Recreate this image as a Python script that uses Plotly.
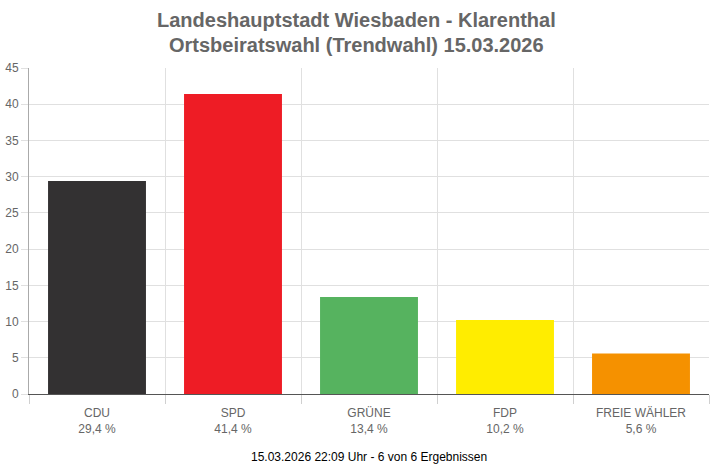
import plotly.graph_objects as go

parties = ["CDU", "SPD", "GRÜNE", "FDP", "FREIE WÄHLER"]
values = [29.4, 41.4, 13.4, 10.2, 5.6]
colors = ["#333132", "#ee1c25", "#56b35f", "#ffed00", "#f59100"]
y_ticks = [0, 5, 10, 15, 20, 25, 30, 35, 40, 45]

title_lines = ["Landeshauptstadt Wiesbaden - Klarenthal", "Ortsbeiratswahl (Trendwahl) 15.03.2026"]
footer = "15.03.2026 22:09 Uhr - 6 von 6 Ergebnissen"

idx = list(range(len(parties)))
labels = [f"{p}<br>{str(v).replace('.', ',')} %" for p, v in zip(parties, values)]
bounds = [i - 0.5 for i in range(len(parties) + 1)]

fig = go.Figure()
fig.add_trace(go.Bar(
    x=idx, y=values, marker=dict(color=colors, line=dict(width=0)),
    width=0.72, hoverinfo="skip", xaxis="x", yaxis="y",
))
fig.add_trace(go.Scatter(x=idx, y=values, mode="markers", marker=dict(opacity=0),
                         xaxis="x2", yaxis="y", hoverinfo="skip", showlegend=False))

font = "Liberation Sans, Arial, sans-serif"
title_y = [1.1472, 1.0706]
annotations = [
    dict(text="<b>" + line + "</b>", x=0.481, xref="paper", y=ty, yref="paper",
         xanchor="center", yanchor="middle", showarrow=False,
         font=dict(family=font, size=20, color="#666666"))
    for line, ty in zip(title_lines, title_y)
]
annotations.append(dict(text=footer, x=0.5, xref="paper", y=-0.165, yref="paper",
                        xanchor="center", yanchor="top", showarrow=False,
                        font=dict(family=font, size=12, color="#000000")))

fig.update_layout(
    width=712, height=468,
    margin=dict(l=29, r=3, t=68, b=74, autoexpand=False),
    paper_bgcolor="white", plot_bgcolor="white",
    showlegend=False,
    xaxis=dict(range=[-0.5, len(parties) - 0.5], tickmode="array", tickvals=bounds,
               ticktext=[""] * len(bounds), showgrid=True, gridcolor="#e0e0e0",
               ticks="outside", ticklen=9, tickcolor="#d0d0d0",
               showline=True, linecolor="#555555", linewidth=1, zeroline=False),
    xaxis2=dict(overlaying="x", side="bottom", range=[-0.5, len(parties) - 0.5],
                tickmode="array", tickvals=idx, ticktext=labels, showgrid=False,
                ticks="outside", ticklen=8, tickcolor="rgba(0,0,0,0)",
                showline=False, zeroline=False,
                tickfont=dict(family=font, size=12, color="#666666")),
    yaxis=dict(range=[0, 45], tickmode="array", tickvals=y_ticks, showgrid=True,
               gridcolor="#e0e0e0", ticks="outside", ticklen=7, tickcolor="#e0e0e0",
               showline=True, linecolor="#aaaaaa", linewidth=1, zeroline=True,
               zerolinecolor="#555555", zerolinewidth=1,
               tickfont=dict(family=font, size=12, color="#666666")),
    annotations=annotations,
)

fig.write_html("out.html", config={"displayModeBar": False},
               post_script="document.body.style.margin='0';")
